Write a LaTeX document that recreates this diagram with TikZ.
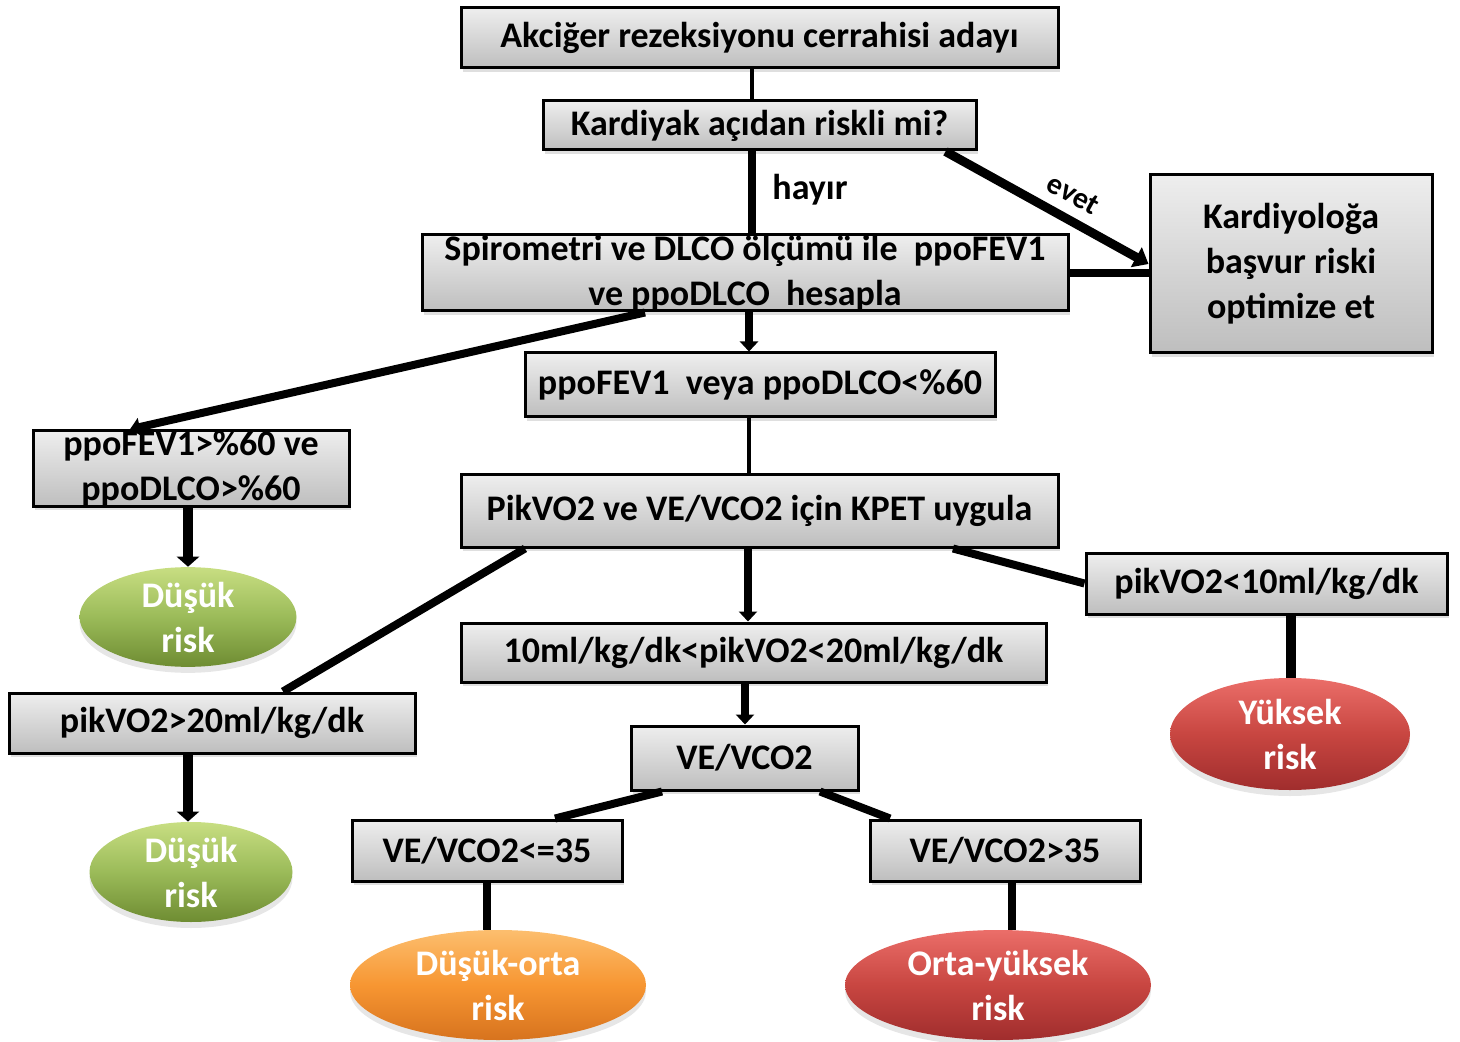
\documentclass[tikz,border=0pt]{standalone}
\usepackage{fontspec}
\setmainfont{Carlito}
\usetikzlibrary{shapes.geometric,arrows.meta,shadows,calc}
\definecolor{boxtop}{RGB}{238,238,238}
\definecolor{boxbot}{RGB}{190,190,190}
\definecolor{gtop}{RGB}{200,222,130}
\definecolor{gmid}{RGB}{155,187,89}
\definecolor{gbot}{RGB}{110,140,50}
\definecolor{otop}{RGB}{252,190,110}
\definecolor{omid}{RGB}{247,150,50}
\definecolor{obot}{RGB}{215,115,30}
\definecolor{rtop}{RGB}{235,110,105}
\definecolor{rmid}{RGB}{200,70,65}
\definecolor{rbot}{RGB}{160,45,45}
\begin{document}
\begin{tikzpicture}[x=0.5pt,y=-0.5pt,
  txt/.style={font=\bfseries\fontsize{18}{22.5}\selectfont},
  box/.style={txt, draw=black, line width=1.5pt, top color=boxtop, bottom color=boxbot,
    align=center, inner sep=0pt,
    drop shadow={shadow xshift=1pt,shadow yshift=-2pt,opacity=0.25}},
  ell/.style={txt, ellipse, inner sep=0pt, align=center, text=white,
    drop shadow={shadow xshift=0pt,shadow yshift=-3pt,opacity=0.2}},
  green/.style={ell, top color=gtop, bottom color=gbot, middle color=gmid},
  orange/.style={ell, top color=otop, bottom color=obot, middle color=omid},
  red/.style={ell, top color=rtop, bottom color=rbot, middle color=rmid},
  thinline/.style={line width=2pt},
  thickline/.style={line width=4pt},
  arr/.style={thickline, -{Triangle[width=9pt,length=5pt]}},
  bigarr/.style={line width=5pt, -{Triangle[width=11pt,length=5pt]}},
  lbl/.style={font=\bfseries\fontsize{18}{22}\selectfont}
]
\useasboundingbox (0,0) rectangle (1460,1042);

% boxes
\node[box, minimum width=298.5pt, minimum height=30pt] (b1) at (759.5,38) {Akciğer rezeksiyonu cerrahisi adayı};
\node[box, minimum width=216.5pt, minimum height=24.5pt] (b2) at (759.5,125.5) {Kardiyak açıdan riskli mi?};
\node[box, minimum width=323pt, minimum height=38pt] (b3) at (745,273) {Spirometri ve DLCO ölçümü ile\ \ ppoFEV1\\ve ppoDLCO\ \ hesapla};
\node[box, minimum width=141pt, minimum height=89pt] (kard) at (1291,264) {Kardiyoloğa\\başvur riski\\optimize et};
\node[box, minimum width=235pt, minimum height=32pt] (b4) at (760,385) {ppoFEV1\ \ veya ppoDLCO<\%60};
\node[box, minimum width=158pt, minimum height=36.5pt] (b5) at (191,468.5) {ppoFEV1>\%60 ve\\ppoDLCO>\%60};
\node[box, minimum width=298.5pt, minimum height=36pt] (b6) at (759.5,511) {PikVO2 ve VE/VCO2 için KPET uygula};
\node[box, minimum width=203pt, minimum height=30pt] (b7) at (212,723) {pikVO2>20ml/kg/dk};
\node[box, minimum width=292.5pt, minimum height=29.5pt] (b8) at (753.5,652.5) {10ml/kg/dk<pikVO2<20ml/kg/dk};
\node[box, minimum width=180.5pt, minimum height=30.5pt] (b9) at (1266.5,583.5) {pikVO2<10ml/kg/dk};
\node[box, minimum width=113.5pt, minimum height=32pt] (b10) at (744.5,758) {VE/VCO2};
\node[box, minimum width=135pt, minimum height=30.5pt] (b11) at (487,850.5) {VE/VCO2<=35};
\node[box, minimum width=135pt, minimum height=30.5pt] (b12) at (1005,850.5) {VE/VCO2>35};

% ellipses
\node[green, minimum width=108.5pt, minimum height=49.5pt] (g1) at (188,617) {Düşük\\risk};
\node[green, minimum width=101.5pt, minimum height=50pt] (g2) at (191,872) {Düşük\\risk};
\node[red, minimum width=120pt, minimum height=56pt] (r1) at (1290,734) {Yüksek\\risk};
\node[orange, minimum width=148pt, minimum height=55pt] (o1) at (498,985) {Düşük-orta\\risk};
\node[red, minimum width=153pt, minimum height=55pt] (r2) at (998,985) {Orta-yüksek\\risk};

% connectors
\draw[thinline] (b1.south -| 752,0) -- (b2.north -| 752,0);
\draw[thickline] (b2.south -| 752,0) -- (b3.north -| 752,0);
\node[lbl] (hayir) at (810,190) {hayır};
\draw[line width=4.5pt, -{Triangle[width=11pt,length=7pt]}] ([xshift=-16pt]b2.south east) -- (kard.west)
  node[pos=0.57, sloped, above=2pt, font=\bfseries\fontsize{15}{17}\selectfont] {evet};
\draw[thickline] (b3.east) -- (b3.east -| kard.west);
\draw[arr] (b3.south -| 749,0) -- (b4.north -| 749,0);
\draw[arr] (b3.south -| 645,0) -- (b5.north -| 130,0);
\draw[bigarr] (b5.south -| 188,0) -- (g1.north -| 188,0);
\draw[thinline] (b4.south -| 749,0) -- (b6.north -| 749,0);
\draw[thickline] (b6.south -| 525,0) -- (b7.north -| 283,0);
\draw[bigarr] (b7.south -| 188,0) -- (g2.north -| 188,0);
\draw[arr] (b6.south -| 748,0) -- (b8.north -| 748,0);
\draw[thickline] (b6.south -| 953,0) -- (b9.west);
\draw[bigarr, -] (b9.south -| 1291,0) -- (r1.north -| 1291,0);
\draw[arr] (b8.south -| 745,0) -- (b10.north -| 745,0);
\draw[thickline] (b10.south -| 662,0) -- (b11.north -| 555,0);
\draw[thickline] (b10.south -| 820,0) -- (b12.north -| 890,0);
\draw[thickline] (b11.south -| 487,0) -- (o1.north -| 487,0);
\draw[thickline] (b12.south -| 1012,0) -- (r2.north -| 1012,0);
\end{tikzpicture}
\end{document}
